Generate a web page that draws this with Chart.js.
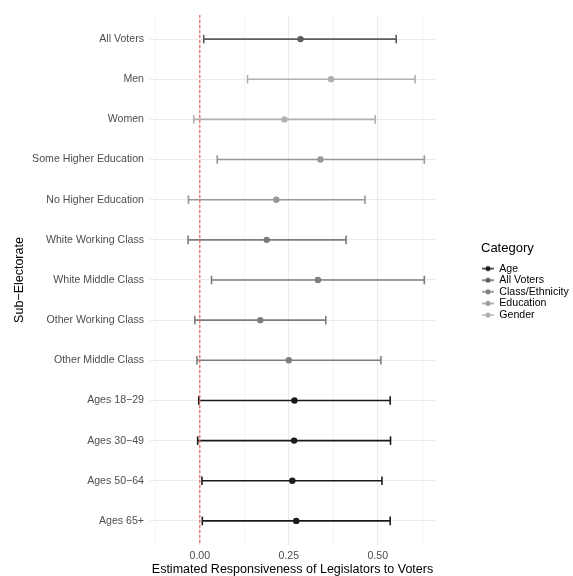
<!DOCTYPE html>
<html>
<head>
<meta charset="utf-8">
<title>Responsiveness by sub-electorate</title>
<script src="https://cdn.jsdelivr.net/npm/chart.js@4.4.0/dist/chart.umd.min.js"></script>
<style>
  html, body { margin: 0; padding: 0; background: #fff; overflow: hidden; }
  #wrap { width: 573px; height: 576px; }
</style>
</head>
<body>
<div id="wrap"><canvas id="chart"></canvas></div>
<script>
/* data */
const subElectorates = ['All Voters', 'Men', 'Women', 'Some Higher Education', 'No Higher Education',
  'White Working Class', 'White Middle Class', 'Other Working Class', 'Other Middle Class',
  'Ages 18\u221229', 'Ages 30\u221249', 'Ages 50\u221264', 'Ages 65+'];
const groupOf = ['All Voters', 'Gender', 'Gender', 'Education', 'Education',
  'Class/Ethnicity', 'Class/Ethnicity', 'Class/Ethnicity', 'Class/Ethnicity',
  'Age', 'Age', 'Age', 'Age'];
const estimates = [0.283, 0.369, 0.238, 0.339, 0.215, 0.188, 0.332, 0.170, 0.250, 0.266, 0.265, 0.260, 0.271];
const lowerCI   = [0.011, 0.134, -0.017, 0.049, -0.032, -0.033, 0.033, -0.014, -0.008, -0.003, -0.006, 0.006, 0.007];
const upperCI   = [0.552, 0.605, 0.493, 0.631, 0.464, 0.411, 0.631, 0.354, 0.509, 0.535, 0.536, 0.512, 0.535];

const legendGroups = ['Age', 'All Voters', 'Class/Ethnicity', 'Education', 'Gender'];
const groupColors  = ['#1a1a1a', '#5c5c5c', '#7d7d7d', '#979797', '#b0b0b0'];

const xTicks = [-0.125, 0, 0.125, 0.25, 0.375, 0.5, 0.625];
const xLabeled = [0, 0.25, 0.5];

function colorOf(group) {
  return groupColors[legendGroups.indexOf(group)];
}

/* little key for the legend: a line with a dot on it */
function keyIcon(color) {
  const c = document.createElement('canvas');
  c.width = 12; c.height = 8;
  const g = c.getContext('2d');
  g.strokeStyle = color; g.lineWidth = 1.4;
  g.beginPath(); g.moveTo(0, 4); g.lineTo(12, 4); g.stroke();
  g.fillStyle = color;
  g.beginPath(); g.arc(6, 4, 2.5, 0, Math.PI * 2); g.fill();
  return c;
}

const datasets = [];

/* zero line */
datasets.push({
  type: 'line',
  data: [{ x: 0, y: -0.6 }, { x: 0, y: subElectorates.length - 0.4 }],
  borderColor: '#ef6464',
  borderWidth: 1.2,
  borderDash: [3, 2],
  pointRadius: 0,
  order: 0
});

/* one error bar per row, caps drawn as rotated line points */
subElectorates.forEach((name, i) => {
  const col = colorOf(groupOf[i]);
  datasets.push({
    type: 'line',
    label: name,
    data: [{ x: lowerCI[i], y: i }, { x: upperCI[i], y: i }],
    borderColor: col,
    borderWidth: 1.6,
    pointStyle: 'line',
    rotation: 90,
    pointRadius: 4.3,
    pointHoverRadius: 4.3,
    pointBorderColor: col,
    pointBorderWidth: 1.6,
    order: 2
  });
});

/* point estimates, one dataset per category */
legendGroups.forEach((g, k) => {
  const pts = [];
  subElectorates.forEach((name, i) => {
    if (groupOf[i] === g) pts.push({ x: estimates[i], y: i });
  });
  datasets.push({
    type: 'scatter',
    label: g,
    data: pts,
    backgroundColor: groupColors[k],
    borderWidth: 0,
    pointRadius: 3.2,
    pointHoverRadius: 3.2,
    order: 1
  });
});

/* give the legend room on its left, like the ggplot gap, and lift it a little */
const legendSpace = {
  id: 'legendSpace',
  beforeInit(chart) {
    const fit = chart.legend.fit;
    chart.legend.fit = function () {
      fit.call(this);
      this.width = 138;
    };
  },
  afterLayout(chart) {
    chart.legend.left = chart.width - 92;
    chart.legend.top -= 14;
    chart.legend.bottom -= 14;
  }
};

const grey = '#4d4d4d';
const fam = 'Liberation Sans, Arial, sans-serif';

new Chart(document.getElementById('chart'), {
  type: 'scatter',
  data: { datasets: datasets },
  plugins: [legendSpace],
  options: {
    responsive: true,
    maintainAspectRatio: false,
    animation: false,
    layout: { padding: { left: 8, top: 15, right: 0, bottom: 0 } },
    scales: {
      x: {
        type: 'linear',
        min: -0.14,
        max: 0.661,
        afterBuildTicks: s => { s.ticks = xTicks.map(v => ({ value: v })); },
        afterFit: s => { s.height = 31; },
        grid: {
          color: '#ebebeb',
          lineWidth: c => (xLabeled.includes(c.tick.value) ? 1.1 : 0.6),
          drawTicks: false
        },
        border: { display: false },
        ticks: {
          padding: 5,
          color: grey,
          font: { family: fam, size: 10.6 },
          callback: v => (xLabeled.includes(v) ? v.toFixed(2) : '')
        },
        title: {
          display: true,
          text: 'Estimated Responsiveness of Legislators to Voters',
          color: '#000',
          padding: { top: 0, bottom: 0 },
          font: { family: fam, size: 12.5, lineHeight: 1 }
        }
      },
      y: {
        type: 'linear',
        reverse: true,
        min: -0.6,
        max: subElectorates.length - 0.4,
        afterBuildTicks: s => { s.ticks = subElectorates.map((n, i) => ({ value: i })); },
        afterFit: s => { s.width = 142; },
        grid: { color: '#ebebeb', lineWidth: 1.1, drawTicks: false },
        border: { display: false },
        ticks: {
          padding: 6,
          color: grey,
          font: { family: fam, size: 10.6 },
          callback: v => subElectorates[v]
        },
        title: {
          display: true,
          text: 'Sub\u2212Electorate',
          color: '#000',
          padding: { top: 5, bottom: 0 },
          font: { family: fam, size: 12.5, lineHeight: 1 }
        }
      }
    },
    plugins: {
      tooltip: { enabled: false },
      legend: {
        position: 'right',
        title: {
          display: true,
          text: 'Category',
          position: 'start',
          color: '#000',
          padding: { top: 0, bottom: 5 },
          font: { family: fam, size: 13 }
        },
        labels: {
          usePointStyle: true,
          pointStyleWidth: 12,
          padding: 1,
          color: '#000',
          font: { family: fam, size: 10.6 },
          generateLabels: () => legendGroups.map((g, k) => ({
            text: g,
            fillStyle: groupColors[k],
            strokeStyle: groupColors[k],
            lineWidth: 0,
            pointStyle: keyIcon(groupColors[k]),
            fontColor: '#000',
            hidden: false,
            datasetIndex: subElectorates.length + 1 + k
          }))
        }
      }
    }
  }
});
</script>
</body>
</html>
